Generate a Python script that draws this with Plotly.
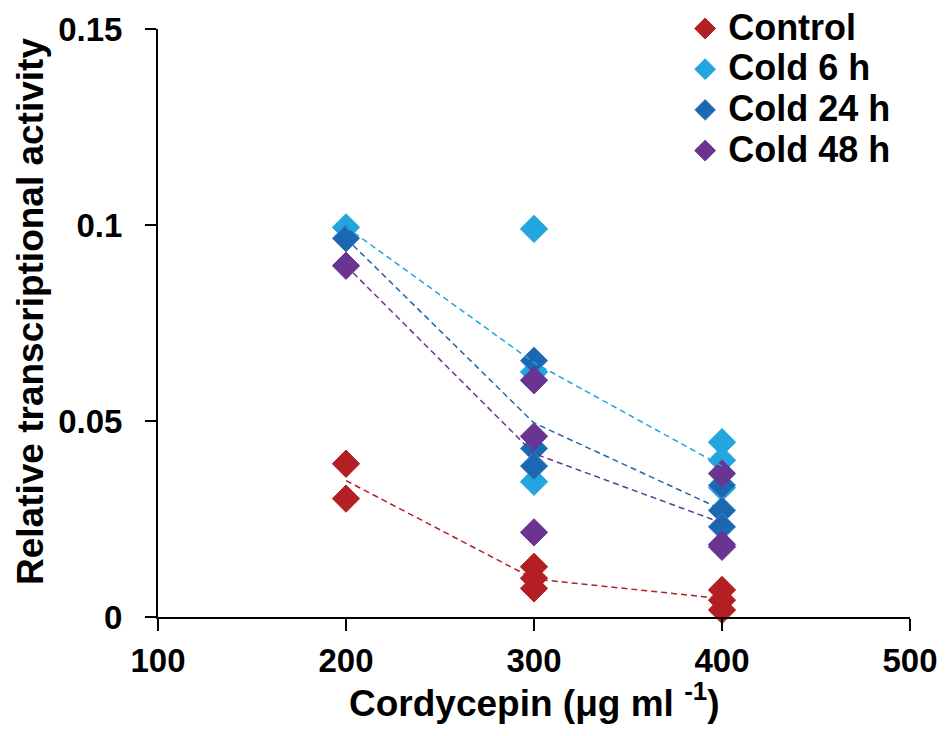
import plotly.graph_objects as go

# ---- data ----
control_x = [200, 200, 300, 300, 300, 400, 400, 400]
control_y = [0.0391, 0.0302, 0.0128, 0.0099, 0.0073, 0.0069, 0.0043, 0.0018]

cold6_x = [200, 300, 300, 300, 400, 400, 400]
cold6_y = [0.0994, 0.0990, 0.0625, 0.0345, 0.0446, 0.0400, 0.0330]

cold24_x = [200, 300, 300, 300, 400, 400, 400]
cold24_y = [0.0966, 0.0654, 0.0430, 0.0385, 0.0336, 0.0272, 0.0230]

cold48_x = [200, 300, 300, 300, 400, 400, 400]
cold48_y = [0.0896, 0.0604, 0.0461, 0.0216, 0.0366, 0.0185, 0.0179]

trend_x = [200, 300, 400]
control_trend = [0.0348, 0.0097, 0.0047]
cold6_trend = [0.0995, 0.0649, 0.0385]
cold24_trend = [0.0966, 0.0495, 0.0274]
cold48_trend = [0.0896, 0.0417, 0.0240]

series_names = ["Control", "Cold 6 h", "Cold 24 h", "Cold 48 h"]
colors = ["#B41F24", "#23A6E0", "#1B68B2", "#6A3592"]
outline = ["#B41F24", "#23A6E0", "#4F84C2", "#6A3592"]

x_ticks = [100, 200, 300, 400, 500]
y_ticks = [0, 0.05, 0.1, 0.15]
y_ticktext = ["0", "0.05", "0.1", "0.15"]

x_title = "Cordycepin (μg ml <sup><span style='font-size:26px'>-1</span></sup>)"
y_title = "Relative transcriptional activity"

FONT = "Liberation Sans, Arial, sans-serif"

fig = go.Figure()

pts = [(control_x, control_y), (cold6_x, cold6_y), (cold24_x, cold24_y), (cold48_x, cold48_y)]
trends = [control_trend, cold6_trend, cold24_trend, cold48_trend]

for (xs, ys), name, c, oc in zip(pts, series_names, colors, outline):
    fig.add_trace(go.Scatter(
        x=xs, y=ys, mode="markers",
        name=f"<span style='font-size:36px'>{name}</span>",
        marker=dict(symbol="diamond", size=21, color=c,
                    line=dict(color=oc, width=1)),
        cliponaxis=False,
    ))

for tr, c in zip(trends, colors):
    fig.add_trace(go.Scatter(
        x=trend_x, y=tr, mode="lines", showlegend=False, hoverinfo="skip",
        line=dict(color=c, width=1.5, dash="6px,4px"),
    ))

# page body has an 8px margin, so the figure is 940x728 drawn from (8,8)
fig.update_layout(
    width=940, height=728, autosize=False,
    paper_bgcolor="white", plot_bgcolor="white",
    margin=dict(l=150, r=38, t=21, b=119, autoexpand=False),
    font=dict(family=FONT, color="black", size=33, weight="bold"),
    showlegend=True,
    legend=dict(
        xref="paper", yref="paper",
        x=0.697, y=1.044, xanchor="left", yanchor="top",
        bgcolor="rgba(0,0,0,0)",
        font=dict(family=FONT, size=29, weight="bold", color="black"),
        itemsizing="trace", tracegroupgap=0, itemwidth=36,
    ),
    annotations=[
        dict(text=x_title, xref="paper", yref="paper", x=0.5, y=0,
             xanchor="center", yanchor="middle", yshift=-83, showarrow=False,
             font=dict(family=FONT, size=37, weight="bold", color="black")),
        dict(text=y_title, xref="paper", yref="paper", x=0, y=0.5,
             xanchor="center", yanchor="middle", xshift=-128, yshift=11,
             textangle=-90, showarrow=False,
             font=dict(family=FONT, size=37, weight="bold", color="black")),
    ],
)

fig.update_xaxes(
    range=[100, 500], tickvals=x_ticks, ticktext=[str(v) for v in x_ticks],
    showgrid=False, zeroline=False, automargin=False,
    showline=True, linecolor="black", linewidth=2,
    ticks="outside", ticklen=12, tickwidth=2, tickcolor="black",
    tickfont=dict(family=FONT, size=33, weight="bold"),
    ticklabelstandoff=1,
)
fig.update_yaxes(
    range=[0, 0.15], tickvals=y_ticks, ticktext=y_ticktext,
    showgrid=False, zeroline=False, automargin=False,
    showline=True, linecolor="black", linewidth=2,
    ticks="outside", ticklen=11, tickwidth=2, tickcolor="black",
    tickfont=dict(family=FONT, size=33, weight="bold"),
    ticklabelstandoff=16,
)

fig.write_html("out.html")
